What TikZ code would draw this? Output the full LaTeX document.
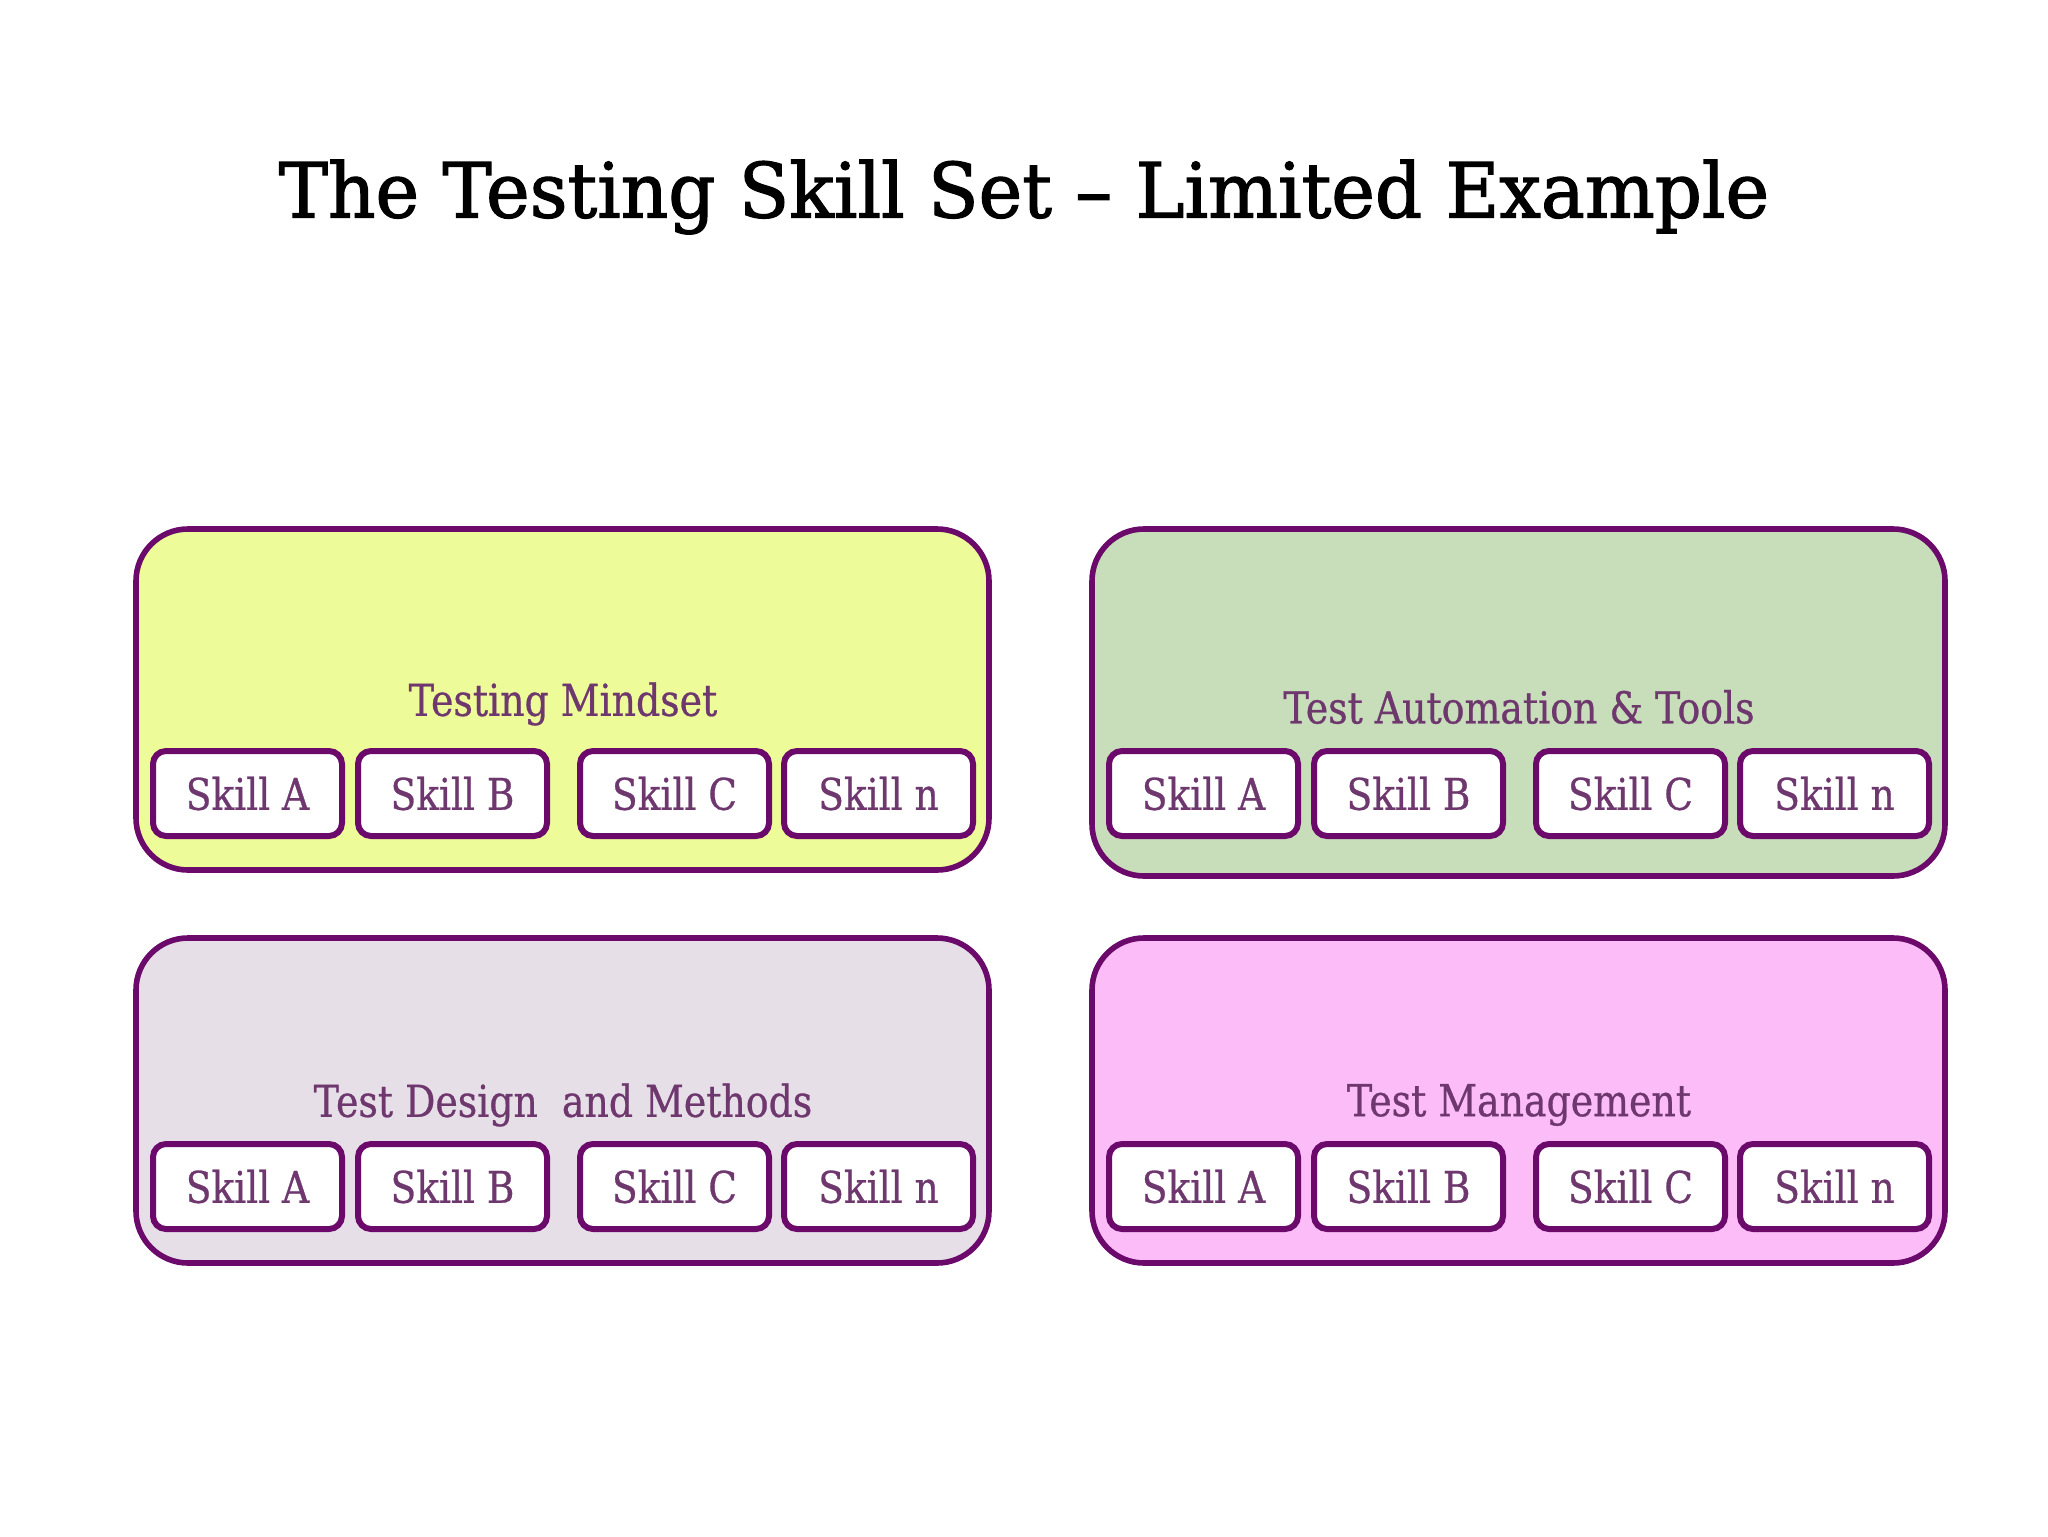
\documentclass[tikz,border=0pt]{standalone}
\usepackage{fontspec}
\setmainfont{DejaVu Serif}[FakeStretch=0.86,FakeBold=0.6]
\newfontfamily\titlefont{DejaVu Serif}[Ligatures=TeX,FakeStretch=0.97,FakeBold=1.6]
\definecolor{edgepurple}{RGB}{107,10,107}
\definecolor{textpurple}{RGB}{110,55,110}
\definecolor{mindsetfill}{RGB}{237,252,152}
\definecolor{automationfill}{RGB}{200,222,187}
\definecolor{designfill}{RGB}{231,223,232}
\definecolor{managementfill}{RGB}{251,188,248}
\begin{document}
\begin{tikzpicture}[x=0.5pt,y=0.5pt,yscale=-1,xscale=1,
  groupbox/.style={draw=edgepurple,line width=2.8pt,rounded corners=26pt,minimum width=426.5pt,inner sep=0pt},
  skillbox/.style={draw=edgepurple,fill=white,line width=3pt,rounded corners=6.5pt,minimum width=94.5pt,minimum height=42.5pt,inner sep=0pt,text=textpurple,font=\fontsize{21.8}{26}\selectfont},
  grouplabel/.style={text=textpurple,font=\fontsize{22}{26}\selectfont}]
\useasboundingbox (0,0) rectangle (2048,1536);

% Text Node
\draw (1024,197) node (title) [font=\titlefont\fontsize{38}{45}\selectfont] {The Testing Skill Set -- Limited Example};

%Rounded Rect
\node (mindset) [groupbox,fill=mindsetfill,minimum height=170.5pt] at (562.5,699.5) {};
%Rounded Rect
\node (automation) [groupbox,fill=automationfill,minimum height=173.5pt] at (1518.5,702.5) {};
%Rounded Rect
\node (design) [groupbox,fill=designfill,minimum height=162.5pt] at (562.5,1100.5) {};
%Rounded Rect
\node (management) [groupbox,fill=managementfill,minimum height=162.5pt] at (1518.5,1100.5) {};

% Text Node
\node (mindsetlabel) [grouplabel] at (563,704) {Testing Mindset};
% Text Node
\node (automationlabel) [grouplabel] at (1519,707) {Test Automation \& Tools};
% Text Node
\node (designlabel) [grouplabel] at (563,1105) {Test Design~ and Methods};
% Text Node
\node (managementlabel) [grouplabel] at (1519,1105) {Test Management};

%Skills - Testing Mindset
\node (mindsetA) [skillbox] at (247.5,793.5) {Skill A};
\node (mindsetB) [skillbox] at (452.5,793.5) {Skill B};
\node (mindsetC) [skillbox] at (674.5,793.5) {Skill C};
\node (mindsetN) [skillbox] at (878.5,793.5) {Skill n};
%Skills - Test Automation
\node (automationA) [skillbox] at (1203.5,793.5) {Skill A};
\node (automationB) [skillbox] at (1408.5,793.5) {Skill B};
\node (automationC) [skillbox] at (1630.5,793.5) {Skill C};
\node (automationN) [skillbox] at (1834.5,793.5) {Skill n};
%Skills - Test Design
\node (designA) [skillbox] at (247.5,1186.5) {Skill A};
\node (designB) [skillbox] at (452.5,1186.5) {Skill B};
\node (designC) [skillbox] at (674.5,1186.5) {Skill C};
\node (designN) [skillbox] at (878.5,1186.5) {Skill n};
%Skills - Test Management
\node (managementA) [skillbox] at (1203.5,1186.5) {Skill A};
\node (managementB) [skillbox] at (1408.5,1186.5) {Skill B};
\node (managementC) [skillbox] at (1630.5,1186.5) {Skill C};
\node (managementN) [skillbox] at (1834.5,1186.5) {Skill n};

\end{tikzpicture}
\end{document}
